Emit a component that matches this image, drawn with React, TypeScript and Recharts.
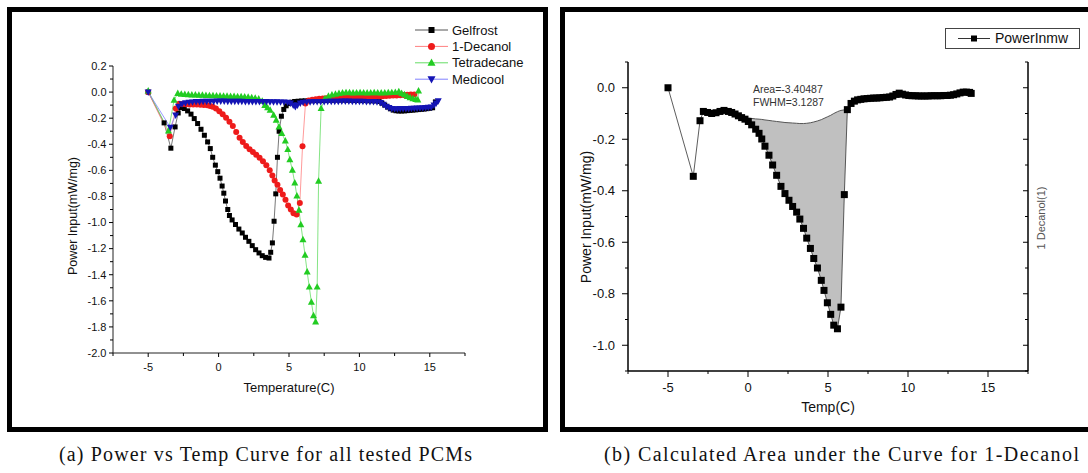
import React from 'react';
import { ComposedChart, Line, Area, XAxis, YAxis } from 'recharts';

const SANS = '"Liberation Sans", Arial, Helvetica, sans-serif';
const SERIF = '"Liberation Serif", "Times New Roman", serif';

// ---- (a) power vs temperature, all PCMs ----
const gelfrostT = [-5, -3.87, -3.39, -3.09, -2.87, -2.68, -2.44, -2.2, -1.96, -1.73, -1.49, -1.25, -1.01, -0.78, -0.59, -0.42, -0.23, -0.06, 0.1, 0.25, 0.37, 0.49, 0.65, 0.77, 0.96, 1.2, 1.44, 1.68, 1.91, 2.15, 2.39, 2.63, 2.87, 3.1, 3.34, 3.58, 3.7, 3.82, 3.94, 4.06, 4.18, 4.3, 4.46, 4.63, 4.8, 5.0, 5.2, 5.4, 5.65, 5.9, 6.15, 6.4, 6.65, 6.9, 7.15, 7.4, 7.65, 7.9, 8.15, 8.4, 8.65, 8.9, 9.15, 9.4, 9.65, 9.9, 10.15, 10.4, 10.65, 10.9, 11.15, 11.4, 11.6, 11.8, 12.0, 12.2, 12.4, 12.6, 12.8, 13.0, 13.2, 13.4, 13.6, 13.8, 14.0, 14.2, 14.4, 14.6, 14.8, 15.0, 15.2, 15.4];
const gelfrostP = [0, -0.236, -0.43, -0.267, -0.16, -0.118, -0.126, -0.144, -0.169, -0.203, -0.241, -0.285, -0.331, -0.382, -0.433, -0.5, -0.56, -0.61, -0.66, -0.72, -0.775, -0.835, -0.9, -0.946, -0.98, -1.015, -1.05, -1.08, -1.113, -1.144, -1.177, -1.208, -1.233, -1.254, -1.267, -1.272, -1.228, -1.156, -0.99, -0.78, -0.5, -0.3, -0.185, -0.133, -0.105, -0.088, -0.078, -0.072, -0.07, -0.068, -0.067, -0.066, -0.066, -0.065, -0.065, -0.064, -0.064, -0.063, -0.063, -0.062, -0.062, -0.062, -0.063, -0.063, -0.064, -0.064, -0.065, -0.065, -0.066, -0.067, -0.068, -0.072, -0.085, -0.1, -0.115, -0.128, -0.138, -0.143, -0.145, -0.145, -0.144, -0.142, -0.14, -0.138, -0.136, -0.134, -0.132, -0.13, -0.127, -0.124, -0.12, -0.075];

const decanolT = [-5, -3.47, -3.04, -2.8, -2.55, -2.3, -2.05, -1.8, -1.55, -1.3, -1.05, -0.8, -0.6, -0.42, -0.19, 0.05, 0.29, 0.53, 0.77, 1.01, 1.25, 1.49, 1.72, 1.96, 2.2, 2.44, 2.67, 2.91, 3.15, 3.39, 3.63, 3.82, 3.98, 4.18, 4.37, 4.56, 4.75, 4.94, 5.13, 5.32, 5.54, 5.77, 5.96, 6.17, 6.4, 6.65, 6.9, 7.15, 7.4, 7.65, 7.9, 8.15, 8.4, 8.65, 8.9, 9.15, 9.4, 9.65, 9.9, 10.15, 10.4, 10.65, 10.9, 11.15, 11.4, 11.65, 11.9, 12.15, 12.4, 12.65, 12.9, 13.15, 13.4, 13.65, 13.9];
const decanolP = [0, -0.338, -0.126, -0.09, -0.092, -0.094, -0.095, -0.095, -0.096, -0.097, -0.098, -0.1, -0.106, -0.113, -0.126, -0.146, -0.169, -0.197, -0.228, -0.26, -0.305, -0.35, -0.382, -0.413, -0.438, -0.459, -0.48, -0.503, -0.53, -0.56, -0.6, -0.64, -0.677, -0.71, -0.75, -0.785, -0.825, -0.87, -0.9, -0.928, -0.938, -0.85, -0.415, -0.087, -0.065, -0.058, -0.055, -0.052, -0.05, -0.048, -0.047, -0.046, -0.045, -0.044, -0.043, -0.042, -0.041, -0.04, -0.039, -0.038, -0.037, -0.036, -0.035, -0.034, -0.033, -0.031, -0.03, -0.028, -0.027, -0.026, -0.024, -0.022, -0.02, -0.019, -0.018];

const tetradecaneT = [-5, -3.56, -3.16, -2.9, -2.65, -2.4, -2.15, -1.9, -1.65, -1.4, -1.15, -0.9, -0.65, -0.4, -0.15, 0.1, 0.35, 0.6, 0.85, 1.1, 1.35, 1.6, 1.85, 2.1, 2.35, 2.6, 2.85, 3.1, 3.28, 3.48, 3.66, 3.91, 4.09, 4.29, 4.49, 4.74, 4.91, 5.06, 5.24, 5.41, 5.56, 5.71, 5.84, 5.99, 6.14, 6.29, 6.44, 6.59, 6.74, 6.89, 7.0, 7.1, 7.28, 7.55, 7.8, 8.05, 8.3, 8.55, 8.8, 9.05, 9.3, 9.55, 9.8, 10.05, 10.3, 10.55, 10.8, 11.05, 11.3, 11.55, 11.8, 12.05, 12.3, 12.55, 12.8, 13.0, 13.2, 13.4, 13.6, 13.8, 14.0, 14.15, 14.2];
const tetradecaneP = [0.01, -0.297, -0.061, -0.01, -0.015, -0.018, -0.02, -0.021, -0.022, -0.023, -0.024, -0.025, -0.026, -0.027, -0.028, -0.029, -0.03, -0.031, -0.032, -0.033, -0.034, -0.035, -0.037, -0.039, -0.042, -0.046, -0.052, -0.07, -0.102, -0.12, -0.138, -0.176, -0.215, -0.266, -0.317, -0.373, -0.44, -0.517, -0.598, -0.696, -0.795, -0.905, -1.015, -1.13, -1.25, -1.378, -1.494, -1.61, -1.713, -1.762, -1.494, -0.683, -0.125, -0.05, -0.03, -0.022, -0.015, -0.01, -0.006, -0.003, -0.004, -0.006, -0.005, -0.004, -0.005, -0.006, -0.005, -0.004, -0.005, -0.006, -0.005, -0.004, -0.003, -0.002, 0.003, -0.01, -0.02, -0.033, -0.043, -0.05, -0.055, -0.06, 0.01];

const medicoolT = [-5, -3.43, -3.05, -2.85, -2.6, -2.35, -2.1, -1.85, -1.6, -1.35, -1.1, -0.85, -0.6, -0.35, -0.1, 0.15, 0.4, 0.65, 0.9, 1.15, 1.4, 1.65, 1.9, 2.15, 2.4, 2.65, 2.9, 3.15, 3.4, 3.65, 3.9, 4.15, 4.4, 4.65, 4.9, 5.1, 5.3, 5.45, 5.6, 5.8, 6.0, 6.25, 6.5, 6.75, 7.0, 7.25, 7.5, 7.75, 8.0, 8.25, 8.5, 8.75, 9.0, 9.25, 9.5, 9.75, 10.0, 10.25, 10.5, 10.75, 11.0, 11.25, 11.5, 11.7, 11.9, 12.1, 12.3, 12.5, 12.7, 12.9, 13.1, 13.3, 13.5, 13.7, 13.9, 14.1, 14.3, 14.5, 14.7, 14.9, 15.1, 15.3, 15.45, 15.6];
const medicoolP = [0, -0.27, -0.176, -0.11, -0.09, -0.082, -0.078, -0.076, -0.074, -0.073, -0.072, -0.072, -0.071, -0.071, -0.07, -0.07, -0.07, -0.071, -0.071, -0.072, -0.072, -0.072, -0.073, -0.073, -0.073, -0.074, -0.074, -0.074, -0.074, -0.075, -0.075, -0.075, -0.076, -0.076, -0.078, -0.085, -0.1, -0.112, -0.1, -0.085, -0.078, -0.076, -0.075, -0.074, -0.074, -0.073, -0.073, -0.072, -0.072, -0.071, -0.071, -0.07, -0.07, -0.07, -0.071, -0.071, -0.072, -0.072, -0.073, -0.073, -0.074, -0.075, -0.08, -0.095, -0.11, -0.12, -0.126, -0.128, -0.128, -0.127, -0.127, -0.126, -0.126, -0.125, -0.124, -0.123, -0.122, -0.121, -0.12, -0.118, -0.115, -0.1, -0.085, -0.068];

// ---- (b) 1-Decanol, area under the curve ----
const powerT = [-5, -3.42, -3.0, -2.79, -2.52, -2.27, -2.0, -1.75, -1.5, -1.23, -1.02, -0.81, -0.6, -0.4, -0.19, 0.02, 0.23, 0.48, 0.69, 0.86, 1.06, 1.31, 1.54, 1.79, 2.06, 2.31, 2.56, 2.79, 3.04, 3.24, 3.47, 3.67, 3.9, 4.11, 4.34, 4.58, 4.75, 4.96, 5.17, 5.36, 5.59, 5.81, 6.02, 6.21, 6.44, 6.65, 6.85, 7.05, 7.25, 7.45, 7.65, 7.85, 8.05, 8.25, 8.45, 8.65, 8.85, 9.05, 9.25, 9.45, 9.65, 9.85, 10.05, 10.25, 10.45, 10.65, 10.85, 11.05, 11.25, 11.45, 11.65, 11.85, 12.05, 12.25, 12.45, 12.65, 12.85, 13.05, 13.25, 13.45, 13.65, 13.85, 13.95];
const powerP = [0, -0.344, -0.128, -0.092, -0.096, -0.1, -0.097, -0.092, -0.088, -0.092, -0.096, -0.102, -0.109, -0.116, -0.122, -0.131, -0.144, -0.161, -0.177, -0.199, -0.227, -0.262, -0.3, -0.34, -0.383, -0.411, -0.437, -0.461, -0.483, -0.51, -0.546, -0.584, -0.624, -0.663, -0.7, -0.748, -0.787, -0.835, -0.88, -0.922, -0.936, -0.852, -0.415, -0.085, -0.061, -0.052, -0.047, -0.045, -0.043, -0.042, -0.041, -0.04, -0.04, -0.039, -0.038, -0.037, -0.036, -0.032, -0.026, -0.021, -0.025, -0.028, -0.03, -0.031, -0.031, -0.032, -0.032, -0.032, -0.032, -0.031, -0.031, -0.031, -0.031, -0.03, -0.03, -0.029, -0.027, -0.024, -0.02, -0.017, -0.017, -0.018, -0.022];
// integration baseline, at the points from T=-0.4 to T=6.21
const peakFrom = 13;
const peakTo = 44;
const baselineP = [-0.115, -0.116, -0.117, -0.119, -0.121, -0.122, -0.123, -0.125, -0.127, -0.129, -0.131, -0.133, -0.135, -0.136, -0.137, -0.138, -0.139, -0.139, -0.138, -0.136, -0.133, -0.129, -0.124, -0.119, -0.113, -0.107, -0.1, -0.093, -0.088, -0.086, -0.085];

const tempTicks = [-7.5, -5, -2.5, 0, 2.5, 5, 7.5, 10, 12.5, 15, 17.5];
const powerTicksA = [-2.0, -1.9, -1.8, -1.7, -1.6, -1.5, -1.4, -1.3, -1.2, -1.1, -1.0, -0.9, -0.8, -0.7, -0.6, -0.5, -0.4, -0.3, -0.2, -0.1, 0.0, 0.1, 0.2];
const powerTicksB = [-1.1, -1.0, -0.9, -0.8, -0.7, -0.6, -0.5, -0.4, -0.3, -0.2, -0.1, 0.0, 0.1];

const zip = (t: number[], p: number[]) => t.map((x, i) => ({ t: x, p: p[i] }));

type Shape = 'square' | 'circle' | 'up' | 'down';

const pcmSeries: { name: string; t: number[]; p: number[]; line: string; fill: string; shape: Shape; size: number }[] = [
  { name: 'Gelfrost', t: gelfrostT, p: gelfrostP, line: '#555555', fill: '#000000', shape: 'square', size: 5 },
  { name: '1-Decanol', t: decanolT, p: decanolP, line: '#ff8080', fill: '#ee1b1b', shape: 'circle', size: 6 },
  { name: 'Tetradecane', t: tetradecaneT, p: tetradecaneP, line: '#66dd66', fill: '#22cc22', shape: 'up', size: 7 },
  { name: 'Medicool', t: medicoolT, p: medicoolP, line: '#8080ff', fill: '#1414b4', shape: 'down', size: 7 },
];

const Marker = ({ shape, cx, cy, size, fill }: { shape: Shape; cx: number; cy: number; size: number; fill: string }) => {
  const h = size / 2;
  if (shape === 'square') return <rect x={cx - h} y={cy - h} width={size} height={size} fill={fill} />;
  if (shape === 'circle') return <circle cx={cx} cy={cy} r={h} fill={fill} />;
  if (shape === 'up')
    return <polygon points={`${cx},${cy - h * 1.1} ${cx + h},${cy + h * 0.75} ${cx - h},${cy + h * 0.75}`} fill={fill} />;
  return <polygon points={`${cx},${cy + h * 1.1} ${cx + h},${cy - h * 0.75} ${cx - h},${cy - h * 0.75}`} fill={fill} />;
};

const dotFor = (shape: Shape, size: number, fill: string) => (props: any) => {
  const { cx, cy, index } = props;
  if (cx == null || cy == null) return <g key={`e${index}`} />;
  return (
    <g key={`m${index}`}>
      <Marker shape={shape} cx={cx} cy={cy} size={size} fill={fill} />
    </g>
  );
};

// ticks drawn by hand so minor ticks get shorter lines and no label
const xTick = (major: number, minor: number, font: number, dy: number) => (props: any) => {
  const { x, y, payload } = props;
  const v = payload.value;
  const isMajor = Math.abs(v % 5) < 1e-6;
  return (
    <g>
      <line x1={x} y1={y} x2={x} y2={y + (isMajor ? major : minor)} stroke="#000" strokeWidth={1} />
      {isMajor && (
        <text x={x} y={y + dy} textAnchor="middle" fontSize={font} fontFamily={SANS} fill="#111">
          {v}
        </text>
      )}
    </g>
  );
};

const yTick = (major: number, minor: number, font: number, gap: number, labels: boolean) => (props: any) => {
  const { x, y, payload } = props;
  const v = payload.value;
  const isMajor = Math.abs(Math.round(v * 10)) % 2 === 0;
  return (
    <g>
      <line x1={x} y1={y} x2={x - (isMajor ? major : minor)} y2={y} stroke="#000" strokeWidth={1} />
      {labels && isMajor && (
        <text x={x - gap} y={y} dy="0.35em" textAnchor="end" fontSize={font} fontFamily={SANS} fill="#111">
          {v.toFixed(1)}
        </text>
      )}
    </g>
  );
};

const AllPcmChart = () => (
  <ComposedChart width={548} height={432} margin={{ top: 66, right: 83, bottom: 78, left: 112 }}>
    <XAxis
      type="number"
      dataKey="t"
      domain={[-7.5, 17.5]}
      allowDataOverflow
      ticks={tempTicks}
      interval={0}
      height={1}
      tickSize={0}
      tickMargin={0}
      tickLine={false}
      tick={xTick(4, 3, 11, 17.5)}
      axisLine={{ stroke: '#222', strokeWidth: 1 }}
    />
    <YAxis
      type="number"
      dataKey="p"
      domain={[-2, 0.2]}
      allowDataOverflow
      ticks={powerTicksA}
      interval={0}
      width={1}
      tickSize={0}
      tickMargin={0}
      tickLine={false}
      tick={yTick(4, 3, 11, 6.5, true)}
      axisLine={{ stroke: '#222', strokeWidth: 1 }}
    />
    {pcmSeries.map((s) => (
      <Line
        key={s.name}
        name={s.name}
        data={zip(s.t, s.p)}
        dataKey="p"
        type="linear"
        stroke={s.line}
        strokeWidth={0.8}
        dot={dotFor(s.shape, s.size, s.fill)}
        activeDot={false}
        isAnimationActive={false}
      />
    ))}
  </ComposedChart>
);

const powerData = zip(powerT, powerP);
const peakT = powerT.slice(peakFrom, peakTo);
const shadeData = peakT.map((t, i) => ({ t, low: powerP[peakFrom + i], high: baselineP[i] }));
const baselineData = zip(peakT, baselineP);

const DecanolAreaChart = () => (
  <ComposedChart width={528} height={432} margin={{ top: 62, right: 59, bottom: 60, left: 67 }}>
    <XAxis
      type="number"
      dataKey="t"
      domain={[-7.5, 17.5]}
      allowDataOverflow
      ticks={tempTicks}
      interval={0}
      height={1}
      tickSize={0}
      tickMargin={0}
      tickLine={false}
      tick={xTick(6, 3, 13, 20.5)}
      axisLine={{ stroke: '#000', strokeWidth: 1.5 }}
    />
    <YAxis
      yAxisId="left"
      type="number"
      domain={[-1.1, 0.1]}
      allowDataOverflow
      ticks={powerTicksB}
      interval={0}
      width={1}
      tickSize={0}
      tickMargin={0}
      tickLine={false}
      tick={yTick(6, 3, 13, 13, true)}
      axisLine={{ stroke: '#000', strokeWidth: 1.5 }}
    />
    <YAxis
      yAxisId="right"
      orientation="right"
      type="number"
      domain={[-1.1, 0.1]}
      allowDataOverflow
      ticks={powerTicksB}
      interval={0}
      width={1}
      tickSize={0}
      tickMargin={0}
      tickLine={false}
      tick={yTick(5, 3, 13, 0, false)}
      axisLine={{ stroke: '#000', strokeWidth: 1.5 }}
    />
    <Area
      yAxisId="left"
      data={shadeData}
      dataKey={(d: any) => [d.low, d.high]}
      type="linear"
      stroke="none"
      fill="#c0c0c0"
      fillOpacity={1}
      isAnimationActive={false}
      activeDot={false}
    />
    <Line
      yAxisId="left"
      data={baselineData}
      dataKey="p"
      type="monotone"
      stroke="#555"
      strokeWidth={1}
      dot={false}
      activeDot={false}
      isAnimationActive={false}
    />
    <Line
      yAxisId="left"
      name="PowerInmw"
      data={powerData}
      dataKey="p"
      type="linear"
      stroke="#333"
      strokeWidth={0.8}
      dot={dotFor('square', 7, '#000')}
      activeDot={false}
      isAnimationActive={false}
    />
  </ComposedChart>
);

const Overlay = () => (
  <svg width={1088} height={473} style={{ position: 'absolute', left: 0, top: 0, pointerEvents: 'none' }}>
    {/* (a) titles and legend */}
    <text x={289} y={387} dy="0.35em" textAnchor="middle" fontSize={13} fontFamily={SANS} fill="#111">
      Temperature(C)
    </text>
    <text transform="translate(73,216) rotate(-90)" dy="0.35em" textAnchor="middle" fontSize={12.5} fontFamily={SANS} fill="#111">
      Power Input(mW/mg)
    </text>
    {pcmSeries.map((s, i) => {
      const y = 30 + i * 16.4;
      return (
        <g key={s.name}>
          <line x1={415} y1={y} x2={448} y2={y} stroke={s.line} strokeWidth={1} />
          <Marker shape={s.shape} cx={431.5} cy={y} size={s.size + 1} fill={s.fill} />
          <text x={452} y={y} dy="0.35em" fontSize={13} fontFamily={SANS} fill="#111">
            {s.name}
          </text>
        </g>
      );
    })}

    {/* (b) titles, legend, annotation */}
    <text x={828} y={407} dy="0.35em" textAnchor="middle" fontSize={14} fontFamily={SANS} fill="#111">
      Temp(C)
    </text>
    <text transform="translate(586,217) rotate(-90)" dy="0.35em" textAnchor="middle" fontSize={14} fontFamily={SANS} fill="#111">
      Power Input(mW/mg)
    </text>
    <text transform="translate(1041,218) rotate(-90)" dy="0.35em" textAnchor="middle" fontSize={11} fontFamily={SANS} fill="#555">
      1 Decanol(1)
    </text>
    <rect x={945.5} y={28.5} width={134} height={20} fill="#fff" stroke="#444" strokeWidth={1} />
    <line x1={958} y1={38.5} x2={990} y2={38.5} stroke="#333" strokeWidth={1} />
    <Marker shape="square" cx={974} cy={38.5} size={6} fill="#000" />
    <text x={995} y={38.5} dy="0.35em" fontSize={14} fontFamily={SANS} fill="#111">
      PowerInmw
    </text>
    <text x={753} y={89} dy="0.35em" fontSize={10.5} fontFamily={SANS} fill="#333">
      Area=-3.40487
    </text>
    <text x={753} y={102} dy="0.35em" fontSize={10.5} fontFamily={SANS} fill="#333">
      FWHM=3.1287
    </text>

    {/* captions */}
    <text x={265.5} y={461} textAnchor="middle" fontSize={20} fontFamily={SERIF} fill="#111" textLength={413} lengthAdjust="spacing">
      (a) Power vs Temp Curve for all tested PCMs
    </text>
    <text x={841.5} y={461} textAnchor="middle" fontSize={20} fontFamily={SERIF} fill="#111" textLength={475} lengthAdjust="spacing">
      (b) Calculated Area under the Curve for 1-Decanol
    </text>
  </svg>
);

export default function App() {
  return (
    <div style={{ position: 'absolute', left: 0, top: 0, width: 1088, height: 473, background: '#fff', overflow: 'hidden' }}>
      <div style={{ position: 'absolute', left: 7, top: 7, width: 541, height: 425, border: '5px solid #000', boxSizing: 'border-box' }} />
      <div style={{ position: 'absolute', left: 560, top: 7, width: 528, height: 425, borderTop: '5px solid #000', borderLeft: '5px solid #000', borderBottom: '5px solid #000', boxSizing: 'border-box' }} />
      <div style={{ position: 'absolute', left: 0, top: 0 }}>
        <AllPcmChart />
      </div>
      <div style={{ position: 'absolute', left: 560, top: 0 }}>
        <DecanolAreaChart />
      </div>
      <Overlay />
    </div>
  );
}
